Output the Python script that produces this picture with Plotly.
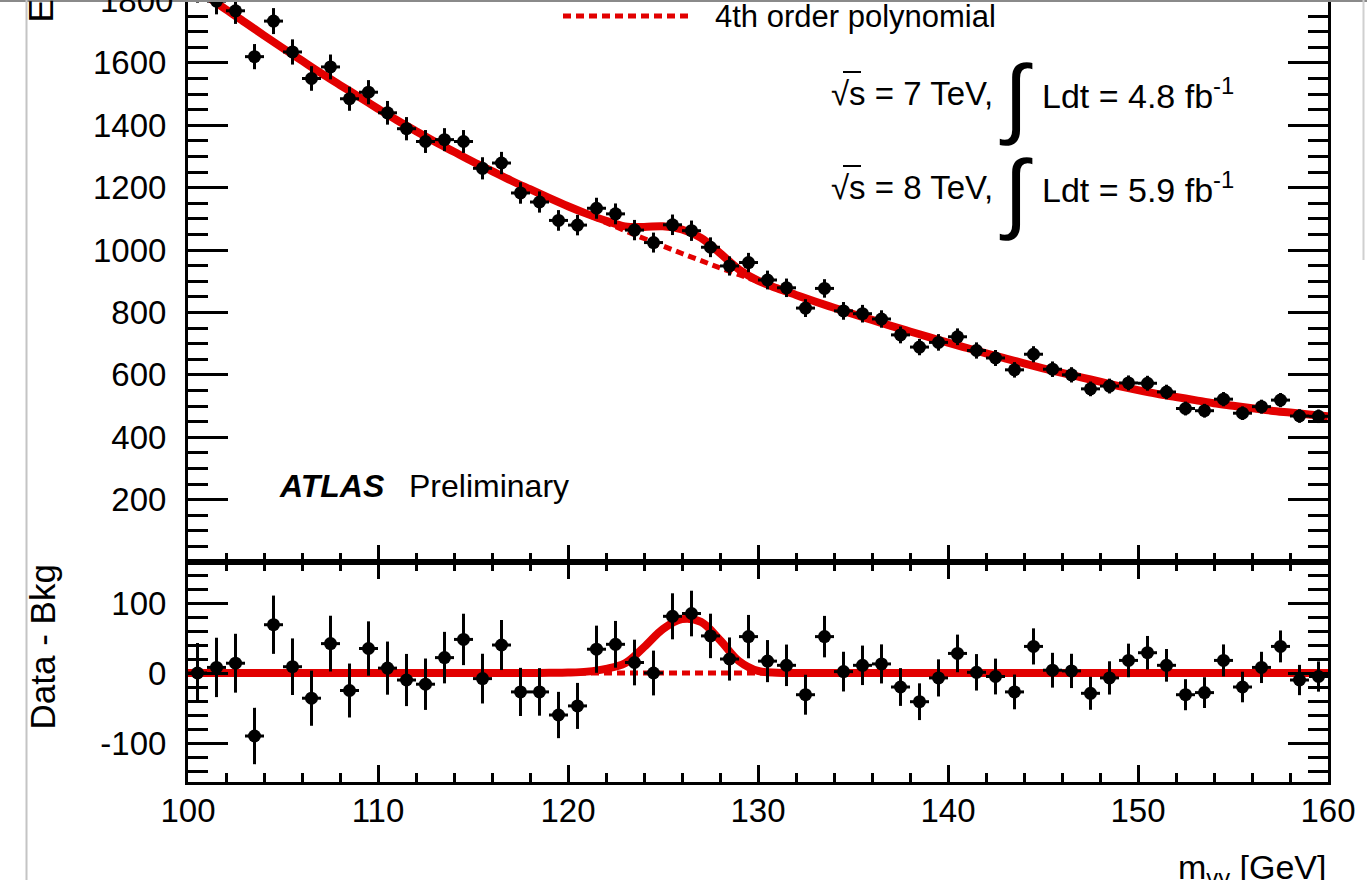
import numpy as np
import plotly.graph_objects as go

# ---- diphoton mass spectrum, 1 GeV bins from 100 to 160 GeV ----
bin_centres = np.arange(100.5, 160.0, 1.0)

events = [1836, 1798, 1767, 1620, 1734, 1635, 1550, 1587, 1485, 1506,
          1440, 1389, 1348, 1354, 1348, 1262, 1279, 1183, 1154, 1095,
          1080, 1134, 1116, 1064, 1024, 1081, 1062, 1009, 949, 960,
          904, 879, 814, 877, 805, 796, 779, 728, 689, 704,
          722, 678, 654, 616, 666, 618, 600, 555, 564, 574,
          573, 545, 492, 485, 522, 477, 498, 519, 468, 467]

data_minus_bkg = [0, 8, 14, -90, 69, 9, -36, 42, -25, 35,
                  7, -10, -16, 22, 48, -8, 40, -27, -27, -60,
                  -47, 34, 41, 15, 0, 81, 85, 53, 20, 52,
                  17, 11, -31, 52, 2, 11, 13, -20, -41, -7,
                  28, 1, -5, -27, 38, 4, 3, -29, -7, 18,
                  29, 11, -31, -28, 18, -20, 8, 38, -10, -5]

# ---- fitted curves sampled every GeV ----
fit_mass = list(range(100, 161))

bkg_fit = [1858, 1814, 1771, 1730, 1688, 1647, 1607, 1567, 1529, 1491,
           1453, 1416, 1381, 1347, 1315, 1283, 1253, 1223, 1195, 1167,
           1140, 1114, 1088, 1062, 1037, 1013, 989, 966, 943, 921,
           899, 877, 856, 835, 815, 795, 776, 757, 739, 721,
           703, 686, 669, 653, 637, 621, 606, 592, 578, 564,
           551, 539, 529, 519, 509, 501, 493, 485, 479, 473,
           467]

sig_fit = [0, 0, 0, 0, 0, 0, 0, 0, 0, 0,
           0, 0, 0, 0, 0, 0, 0, 0, 0, 0.2,
           0.6, 2, 6, 14, 37, 63, 77, 73, 47, 17,
           3, 0.4, 0, 0, 0, 0, 0, 0, 0, 0,
           0, 0, 0, 0, 0, 0, 0, 0, 0, 0,
           0, 0, 0, 0, 0, 0, 0, 0, 0, 0,
           0]

upper_ticks = [0, 200, 400, 600, 800, 1000, 1200, 1400, 1600]
upper_ticktext = ["", "200", "400", "600", "800", "1000", "1200", "1400", "1600"]
upper_top_tick = 1800
lower_ticks = [-100, 0, 100]
lower_ticktext = ["-100", "0", "100"]
mass_ticks = [100, 110, 120, 130, 140, 150, 160]

events = np.array(events, dtype=float)
stat_err = np.sqrt(events)
bkg_fit = np.array(bkg_fit, dtype=float)
sig_fit = np.array(sig_fit, dtype=float)
total_fit = bkg_fit + sig_fit

W, H = 1367, 880
RED = "rgb(226,0,0)"
FONT = "Liberation Sans"


def px(x):
    return x / W


def py(y):
    return 1 - y / H


x_dom = [px(188), px(1328)]
upper_dom = [py(562), 1.0]
lower_dom = [py(782), py(562)]

fig = go.Figure()

marker_style = dict(color="black", size=13)
err_style = dict(color="black", thickness=3, width=0)

# upper panel: background-only fit (dashed), signal+background fit (solid), data
fig.add_trace(go.Scatter(x=fit_mass, y=bkg_fit, mode="lines", xaxis="x", yaxis="y",
                         line=dict(color=RED, width=5, dash="8px,5px", shape="spline"),
                         hoverinfo="skip"))
fig.add_trace(go.Scatter(x=fit_mass, y=total_fit, mode="lines", xaxis="x", yaxis="y",
                         line=dict(color=RED, width=8, shape="spline"),
                         hoverinfo="skip"))
fig.add_trace(go.Scatter(x=bin_centres, y=events, mode="markers", xaxis="x", yaxis="y",
                         marker=marker_style,
                         error_y=dict(type="data", array=stat_err, **err_style),
                         error_x=dict(type="constant", value=0.5, **err_style)))

# lower panel: residuals with respect to the background fit
fig.add_trace(go.Scatter(x=fit_mass, y=np.zeros(len(fit_mass)), mode="lines",
                         xaxis="x2", yaxis="y2",
                         line=dict(color=RED, width=5, dash="8px,5px"),
                         hoverinfo="skip"))
fig.add_trace(go.Scatter(x=fit_mass, y=sig_fit, mode="lines", xaxis="x2", yaxis="y2",
                         line=dict(color=RED, width=8, shape="spline"),
                         hoverinfo="skip"))
fig.add_trace(go.Scatter(x=bin_centres, y=data_minus_bkg, mode="markers",
                         xaxis="x2", yaxis="y2",
                         marker=marker_style,
                         error_y=dict(type="data", array=stat_err, **err_style),
                         error_x=dict(type="constant", value=0.5, **err_style)))

tick_font = dict(family=FONT, size=33, color="black")
common_x = dict(range=[100, 160], domain=x_dom, showgrid=False, zeroline=False,
                automargin=False,
                showline=True, linecolor="black", linewidth=3,
                ticks="inside", ticklen=17, tickwidth=2.5, tickcolor="black",
                tickmode="array", tickvals=mass_ticks,
                minor=dict(tickmode="linear", tick0=100, dtick=2, ticks="inside",
                           ticklen=9, tickwidth=2.5, tickcolor="black"))
common_y = dict(showgrid=False, zeroline=False, showline=True, linecolor="black",
                automargin=False,
                linewidth=3, mirror="ticks", ticks="inside", ticklen=40,
                tickwidth=2.5, tickcolor="black", tickfont=tick_font,
                ticklabelstandoff=12)

fig.update_layout(
    width=W, height=H,
    margin=dict(l=0, r=0, t=0, b=0, autoexpand=False),
    plot_bgcolor="white", paper_bgcolor="white",
    showlegend=False,
    font=dict(family=FONT, size=32, color="black"),
    xaxis=dict(**common_x, anchor="y", showticklabels=False, mirror=False),
    xaxis2=dict(**common_x, anchor="y2", mirror="ticks", showticklabels=True,
                tickfont=tick_font, ticklabelstandoff=-3),
    yaxis=dict(**common_y, domain=upper_dom, anchor="x", range=[0, 1801.6],
               tickmode="array", tickvals=upper_ticks, ticktext=upper_ticktext,
               minor=dict(tickmode="linear", tick0=0, dtick=50, ticks="inside",
                          ticklen=20, tickwidth=2.5, tickcolor="black")),
    yaxis2=dict(**common_y, domain=lower_dom, anchor="x2", range=[-155.7, 158.6],
                tickmode="array", tickvals=lower_ticks, ticktext=lower_ticktext,
                minor=dict(tickmode="linear", tick0=0, dtick=20, ticks="inside",
                           ticklen=20, tickwidth=2.5, tickcolor="black")),
)

annotations = [
    # top y tick label, partly above the canvas edge
    dict(x=px(175), y=upper_top_tick, yref="y", text=str(upper_top_tick),
         xanchor="right", yanchor="middle", font=dict(size=33)),
    # legend entry
    dict(x=px(713), y=py(16), text="4th order polynomial", xanchor="left",
         yanchor="middle", font=dict(size=31)),
    # luminosity labels
    dict(x=px(995), y=py(93), text="√s = 7 TeV,", xanchor="right", yanchor="middle",
         font=dict(size=33)),
    dict(x=px(1016), y=py(96), text="∫", xanchor="center", yanchor="middle",
         font=dict(size=88)),
    dict(x=px(1040), y=py(93), text="Ldt = 4.8 fb<sup>-1</sup>", xanchor="left",
         yanchor="middle", font=dict(size=34)),
    dict(x=px(995), y=py(187), text="√s = 8 TeV,", xanchor="right", yanchor="middle",
         font=dict(size=33)),
    dict(x=px(1016), y=py(192), text="∫", xanchor="center", yanchor="middle",
         font=dict(size=88)),
    dict(x=px(1040), y=py(187), text="Ldt = 5.9 fb<sup>-1</sup>", xanchor="left",
         yanchor="middle", font=dict(size=34)),
    # experiment label
    dict(x=px(277), y=py(486), text="<b><i>ATLAS</i></b>", xanchor="left",
         yanchor="middle", font=dict(size=32)),
    dict(x=px(407), y=py(486), text="Preliminary", xanchor="left", yanchor="middle",
         font=dict(size=32)),
    # axis titles
    dict(x=px(42), y=py(732), text="Data - Bkg", textangle=-90, xanchor="center",
         yanchor="bottom", font=dict(size=35)),
    dict(x=px(40), y=py(25), text="Events / GeV", textangle=-90, xanchor="center",
         yanchor="bottom", font=dict(size=35)),
    dict(x=px(1329), y=py(846), text="m<sub>γγ</sub> [GeV]", xanchor="right",
         yanchor="top", font=dict(size=34)),
]
for a in annotations:
    a.setdefault("yref", "paper")
    a.update(xref="paper", showarrow=False)
fig.update_layout(annotations=annotations)

shapes = [
    # legend line sample
    dict(type="line", x0=px(563), x1=px(690), y0=py(16), y1=py(16),
         line=dict(color=RED, width=5, dash="8px,5px")),
    # bars over the "s" of the centre-of-mass energy labels
    dict(type="line", x0=px(843), x1=px(861), y0=py(72), y1=py(72),
         line=dict(color="black", width=2)),
    dict(type="line", x0=px(843), x1=px(861), y0=py(166), y1=py(166),
         line=dict(color="black", width=2)),
    # canvas frame
    dict(type="line", x0=0, x1=1, y0=py(1), y1=py(1),
         line=dict(color="#8a8a8a", width=2)),
    dict(type="line", x0=px(26.5), x1=px(26.5), y0=0, y1=1,
         line=dict(color="#c4c4c4", width=2)),
    dict(type="line", x0=px(1363.5), x1=px(1363.5), y0=py(260), y1=1,
         line=dict(color="#d0d0d0", width=2)),
]
for s in shapes:
    s.update(xref="paper", yref="paper", layer="above")
fig.update_layout(shapes=shapes)

fig.write_html("out.html")
